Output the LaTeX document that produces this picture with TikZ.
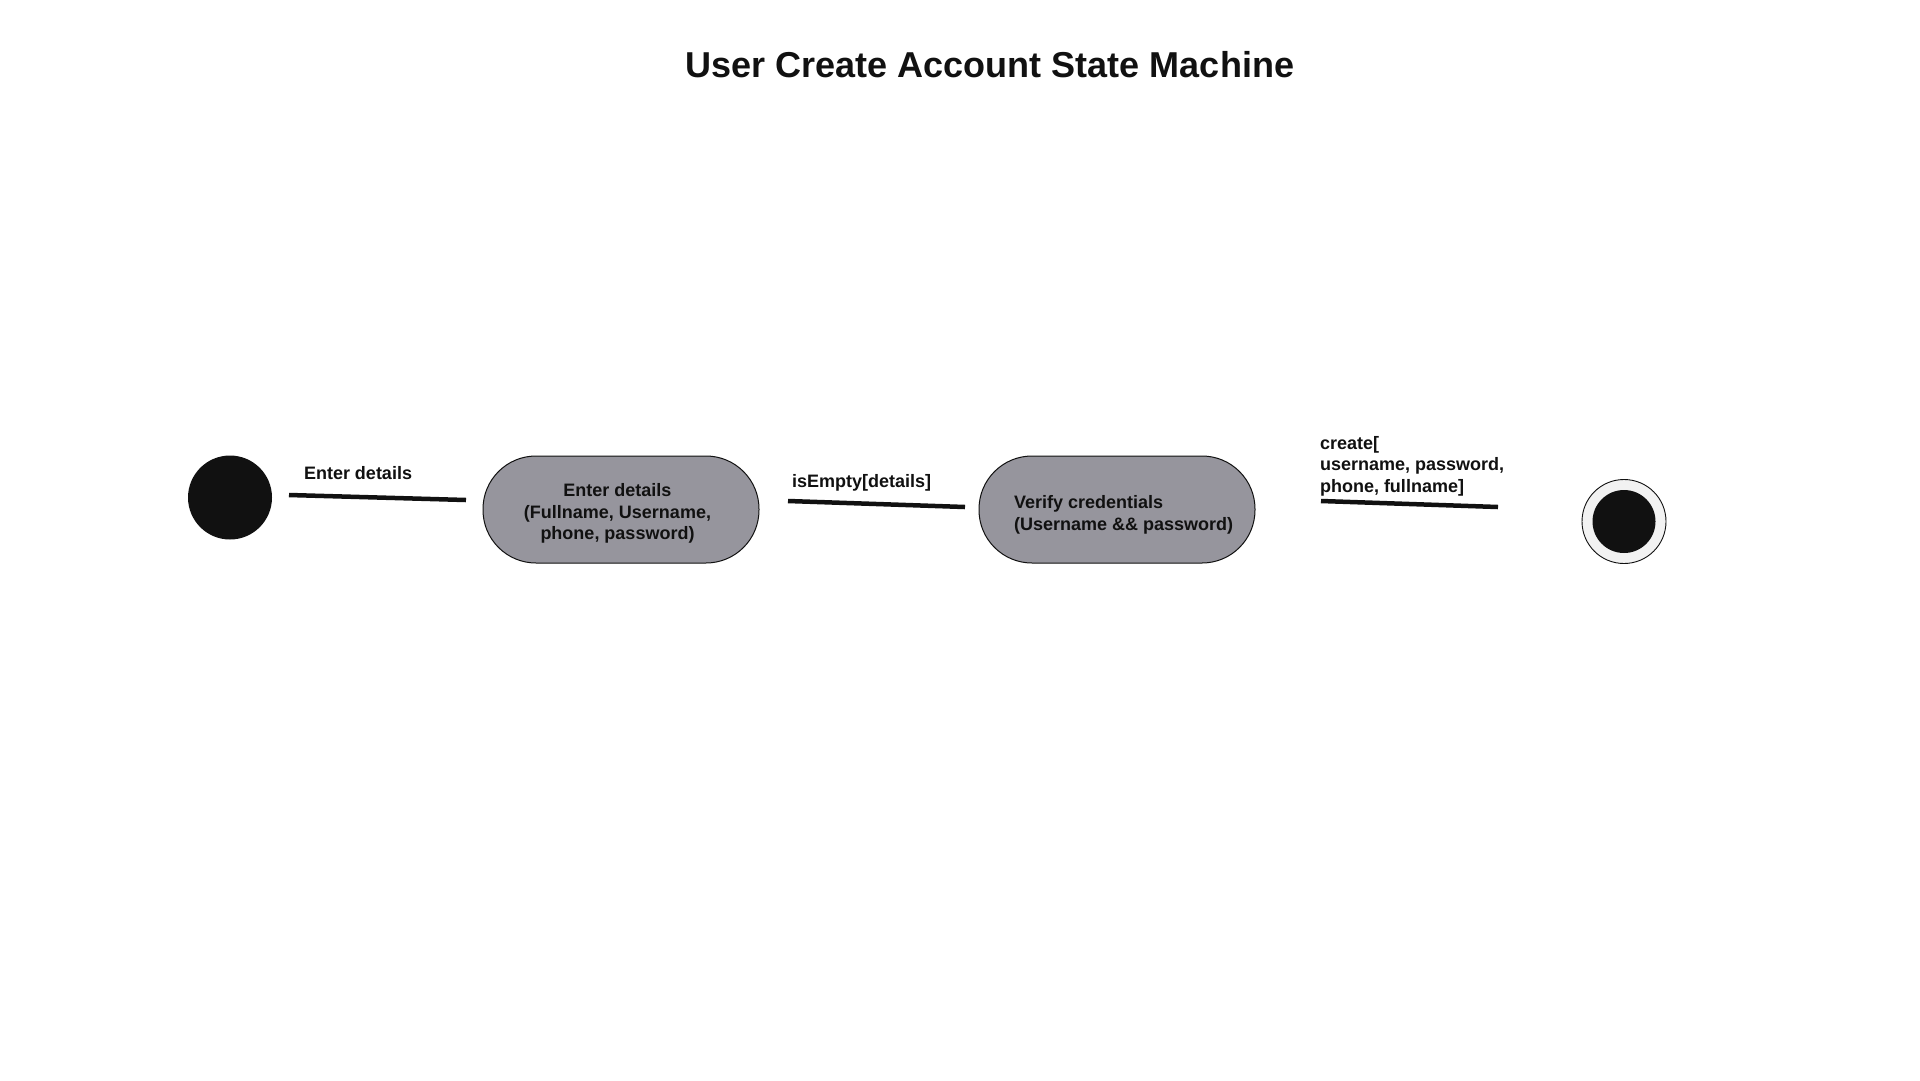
\documentclass[tikz,border=0pt]{standalone}
\usepackage{fontspec}
\setmainfont{Liberation Sans}
\definecolor{stategray}{RGB}{150,149,157}
\definecolor{ink}{RGB}{17,17,17}
\definecolor{ringfill}{RGB}{242,242,242}
\begin{document}
\begin{tikzpicture}[x=1pt,y=-1pt,
  every node/.style={inner sep=0pt, outer sep=0pt, font=\bfseries\fontsize{18}{21.5}\selectfont, text=ink},
  statebox/.style={draw=ink, line width=1pt, fill=stategray, rounded corners=53pt, minimum width=276pt, minimum height=107pt},
  startdot/.style={circle, fill=ink, minimum size=84pt},
  endring/.style={circle, draw=ink, line width=0.9pt, fill=ringfill, minimum size=84pt},
  enddot/.style={circle, fill=ink, minimum size=63pt},
  trans/.style={draw=ink, line width=4.5pt},
  lbl/.style={anchor=west, align=left}
]
\useasboundingbox (0,0) rectangle (1920,1080);
\fill[white] (0,0) rectangle (1920,1080);

\node[font=\bfseries\fontsize{36}{40}\selectfont] (title) at (990,65) {User Create Account State Machine};

\node[startdot] (start) at (230,497.5) {};

\node[statebox] (s1) at (621,509.5) {};
\node[align=center] (s1t) at ([xshift=-3.5pt,yshift=-4pt]s1.center) {Enter details\\(Fullname, Username,\\phone, password)};

\node[statebox] (s2) at (1117,509.5) {};
\node[lbl] (s2t) at ([xshift=35pt,yshift=-5.5pt]s2.west) {Verify credentials\\(Username \&\& password)};

\node[endring] (fin) at (1624,521.5) {};
\node[enddot] (findot) at (fin.center) {};

\coordinate (t1a) at (289,495);
\coordinate (t1b) at (466,500);
\coordinate (t2a) at (788,501);
\coordinate (t2b) at (965,507);
\coordinate (t3a) at (1321,501);
\coordinate (t3b) at (1498,507);

\draw[trans] (t1a) -- (t1b);
\draw[trans] (t2a) -- (t2b);
\draw[trans] (t3a) -- (t3b);

\node[lbl] (l1) at (304,473.5) {Enter details};
\node[lbl] (l2) at (792,482.5) {isEmpty[details]};
\node[lbl] (l3) at (1320,466) {create[\\username, password,\\phone, fullname]};
\end{tikzpicture}
\end{document}
